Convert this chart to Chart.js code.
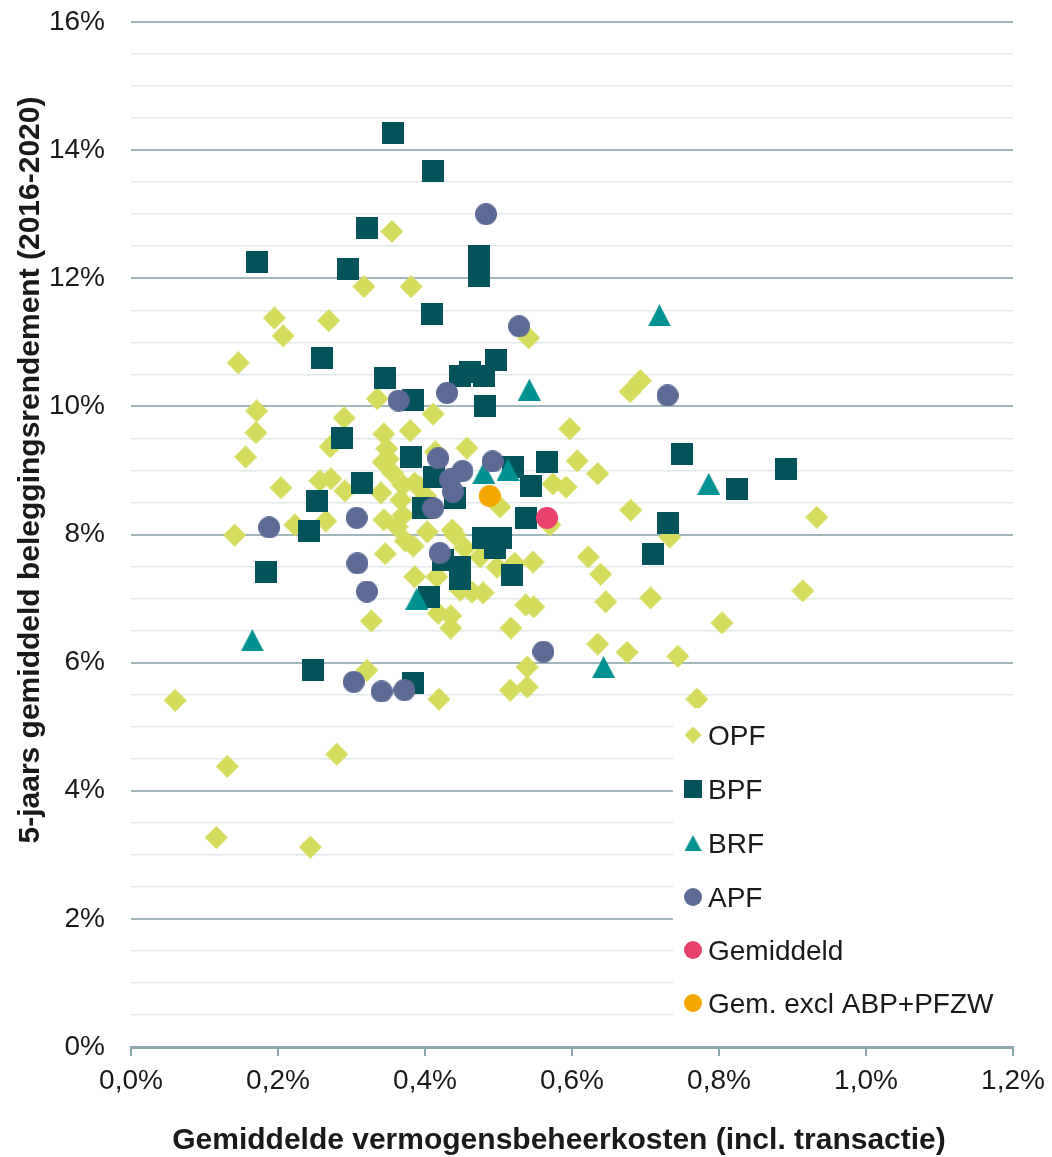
<!DOCTYPE html>
<html><head><meta charset="utf-8">
<script src="https://cdn.jsdelivr.net/npm/chart.js@4/dist/chart.umd.min.js"></script>
<style>html,body{margin:0;padding:0;background:#fff}#wrap{width:1052px;height:1157px}</style>
</head><body><div id="wrap"><canvas id="c" width="1052" height="1157"></canvas></div>
<script>
// ---- DATA ----
const seriesNames = ['OPF','BPF','BRF','APF','Gemiddeld','Gem. excl ABP+PFZW'];
const xTickLabels = ['0,0%','0,2%','0,4%','0,6%','0,8%','1,0%','1,2%'];
const yTickLabels = ['0%','2%','4%','6%','8%','10%','12%','14%','16%'];
const xTitle = 'Gemiddelde vermogensbeheerkosten (incl. transactie)';
const yTitle = '5-jaars gemiddeld beleggingsrendement (2016-2020)';

const opfCost = [0.355,0.317,0.381,0.195,0.269,0.207,0.541,0.146,0.171,0.170,0.156,0.290,0.335,0.411,0.380,0.344,0.271,0.348,0.350,0.356,0.457,0.597,0.607,0.635,0.574,0.592,0.680,0.570,0.733,0.933,0.622,0.639,0.646,0.707,0.914,0.804,0.635,0.675,0.744,0.770,0.679,0.693,0.204,0.257,0.272,0.291,0.340,0.367,0.393,0.414,0.223,0.141,0.265,0.344,0.370,0.362,0.403,0.437,0.502,0.386,0.373,0.346,0.384,0.454,0.475,0.547,0.498,0.386,0.448,0.464,0.479,0.537,0.548,0.418,0.435,0.435,0.327,0.517,0.539,0.516,0.539,0.321,0.419,0.060,0.131,0.280,0.116,0.244,0.416,0.522,0.441,0.401,0.343,0.370];
const opfReturn = [12.73,11.87,11.87,11.38,11.34,11.10,11.07,10.68,9.93,9.59,9.21,9.82,10.12,9.88,9.62,9.57,9.37,9.34,9.18,8.96,9.35,9.65,9.15,8.95,8.79,8.74,8.38,8.15,7.96,8.27,7.65,7.38,6.95,7.01,7.12,6.62,6.29,6.16,6.10,5.43,10.23,10.40,8.73,8.84,8.87,8.68,8.65,8.54,8.74,9.29,8.15,7.99,8.21,8.23,8.30,8.12,8.04,8.07,8.43,8.80,7.90,7.70,7.82,7.79,7.65,7.57,7.49,7.34,7.13,7.10,7.09,6.90,6.87,6.77,6.73,6.54,6.65,6.54,5.93,5.57,5.62,5.88,5.43,5.41,4.38,4.57,3.27,3.12,7.34,7.55,7.99,8.60,9.13,8.77];

const bpfCost = [0.357,0.411,0.321,0.171,0.295,0.474,0.474,0.409,0.260,0.346,0.383,0.448,0.461,0.480,0.497,0.482,0.287,0.381,0.749,0.566,0.891,0.520,0.412,0.314,0.544,0.824,0.441,0.253,0.397,0.538,0.731,0.242,0.479,0.504,0.495,0.710,0.424,0.448,0.518,0.184,0.448,0.405,0.248,0.383];
const bpfReturn = [14.27,13.68,12.78,12.26,12.15,12.35,12.04,11.44,10.75,10.45,10.10,10.47,10.54,10.47,10.72,10.00,9.51,9.21,9.25,9.13,9.02,9.05,8.89,8.81,8.75,8.71,8.57,8.53,8.41,8.26,8.18,8.06,7.95,7.95,7.79,7.69,7.60,7.50,7.37,7.41,7.30,7.02,5.89,5.68];

const brfCost = [0.719,0.542,0.480,0.513,0.786,0.389,0.165,0.643];
const brfReturn = [11.42,10.26,8.96,9.01,8.79,7.00,6.35,5.93];

const apfCost = [0.483,0.528,0.364,0.430,0.730,0.418,0.492,0.451,0.434,0.438,0.411,0.307,0.188,0.420,0.308,0.321,0.561,0.303,0.341,0.372];
const apfReturn = [13.00,11.25,10.09,10.21,10.17,9.19,9.14,8.99,8.86,8.67,8.41,8.26,8.11,7.71,7.55,7.11,6.17,5.70,5.55,5.57];

const gemCost = [0.566];
const gemReturn = [8.26];
const gemExclCost = [0.488];
const gemExclReturn = [8.60];

// ---- STYLE ----
const FONT = "'Liberation Sans', Arial, sans-serif";
const TXT = '#1a1a1a';
const AXIS = '#8DA8AD';
const GRID_MAJOR = '#A2B7BC';
const GRID_MINOR = '#E1E9EB';
const colors = ['#D4DC5B','#04535A','#009190','#5D6A96','#E8416E','#F5A700'];
const shapes = ['diamond','square','triangle','circle','circle','circle'];
const sizes = [[23,23],[22,22],[23,22],[22,22],[22,22],[22,22]];
const legendSizes = [[17,17],[18,18],[17,16],[18,18],[18,18],[18,18]];

function marker(shape, w, h, color){
  const c = document.createElement('canvas'); c.width = w; c.height = h;
  const g = c.getContext('2d'); g.fillStyle = color; g.beginPath();
  if (shape === 'diamond'){ g.moveTo(w/2,0); g.lineTo(w,h/2); g.lineTo(w/2,h); g.lineTo(0,h/2); }
  else if (shape === 'square'){ g.rect(0,0,w,h); }
  else if (shape === 'triangle'){ g.moveTo(w/2,0); g.lineTo(w,h); g.lineTo(0,h); }
  else { g.arc(w/2,h/2,Math.min(w,h)/2,0,Math.PI*2); }
  g.closePath(); g.fill(); return c;
}

const pairs = [[opfCost,opfReturn],[bpfCost,bpfReturn],[brfCost,brfReturn],[apfCost,apfReturn],[gemCost,gemReturn],[gemExclCost,gemExclReturn]];
const datasets = pairs.map((p,i) => ({
  label: seriesNames[i],
  data: p[0].map((x,j) => ({x: x, y: p[1][j]})),
  pointStyle: marker(shapes[i], sizes[i][0], sizes[i][1], colors[i]),
  pointRadius: 11,
  backgroundColor: colors[i],
  borderWidth: 0,
  showLine: false,
  order: 6 - i
}));

const extras = {
  id: 'extras',
  afterDatasetsDraw(chart){
    const ctx = chart.ctx;
    ctx.save();
    // legend box
    ctx.fillStyle = '#ffffff';
    ctx.fillRect(673, 708, 345, 322);
    const rowY = [735, 789, 843, 897, 950, 1003];
    ctx.font = '28px ' + FONT;
    ctx.fillStyle = TXT;
    ctx.textAlign = 'left';
    ctx.textBaseline = 'alphabetic';
    seriesNames.forEach((n,i) => {
      const m = marker(shapes[i], legendSizes[i][0], legendSizes[i][1], colors[i]);
      ctx.drawImage(m, 693 - m.width/2, rowY[i] - m.height/2);
      ctx.fillText(n, 708, rowY[i] + 10);
    });
    // axis titles
    ctx.font = 'bold 30px ' + FONT;
    ctx.textAlign = 'center';
    ctx.textBaseline = 'middle';
    ctx.fillText(xTitle, 559, 1141);
    ctx.translate(31, 470);
    ctx.rotate(-Math.PI/2);
    ctx.fillText(yTitle, 0, 0);
    ctx.restore();
  }
};

new Chart(document.getElementById('c'), {
  type: 'scatter',
  data: { datasets },
  options: {
    responsive: false,
    animation: false,
    devicePixelRatio: 1,
    layout: { padding: { top: 22, right: 39, left: 0, bottom: 0 } },
    plugins: { legend: { display: false }, tooltip: { enabled: false } },
    scales: {
      x: {
        type: 'linear', min: 0, max: 1.2,
        afterFit: s => { s.height = 110; s.paddingLeft = 0; s.paddingRight = 0; },
        afterBuildTicks: s => { s.ticks = xTickLabels.map((l,i) => ({value: i*0.2})); },
        ticks: {
          callback: (v, i) => xTickLabels[i],
          font: { family: FONT, size: 28 }, color: TXT, padding: 8, maxRotation: 0, autoSkip: false
        },
        grid: { drawOnChartArea: false, drawTicks: true, tickLength: 9, color: AXIS, lineWidth: 2 },
        border: { display: true, color: AXIS, width: 3 }
      },
      y: {
        min: 0, max: 16,
        afterFit: s => { s.width = 131; s.paddingTop = 0; s.paddingBottom = 0; },
        afterBuildTicks: s => { const t = []; for (let i = 0; i <= 32; i++) t.push({value: i*0.5}); s.ticks = t; },
        ticks: {
          autoSkip: false,
          callback: (v) => (Math.abs(v % 2) < 1e-9 ? yTickLabels[Math.round(v/2)] : ''),
          font: { family: FONT, size: 28 }, color: TXT, padding: 26
        },
        grid: {
          drawTicks: false,
          color: c => (c.tick && Math.abs(c.tick.value % 2) < 1e-9) ? GRID_MAJOR : GRID_MINOR,
          lineWidth: c => (c.tick && Math.abs(c.tick.value % 2) < 1e-9) ? 2 : 1.5
        },
        border: { display: false }
      }
    }
  },
  plugins: [extras]
});
</script>
</body></html>
